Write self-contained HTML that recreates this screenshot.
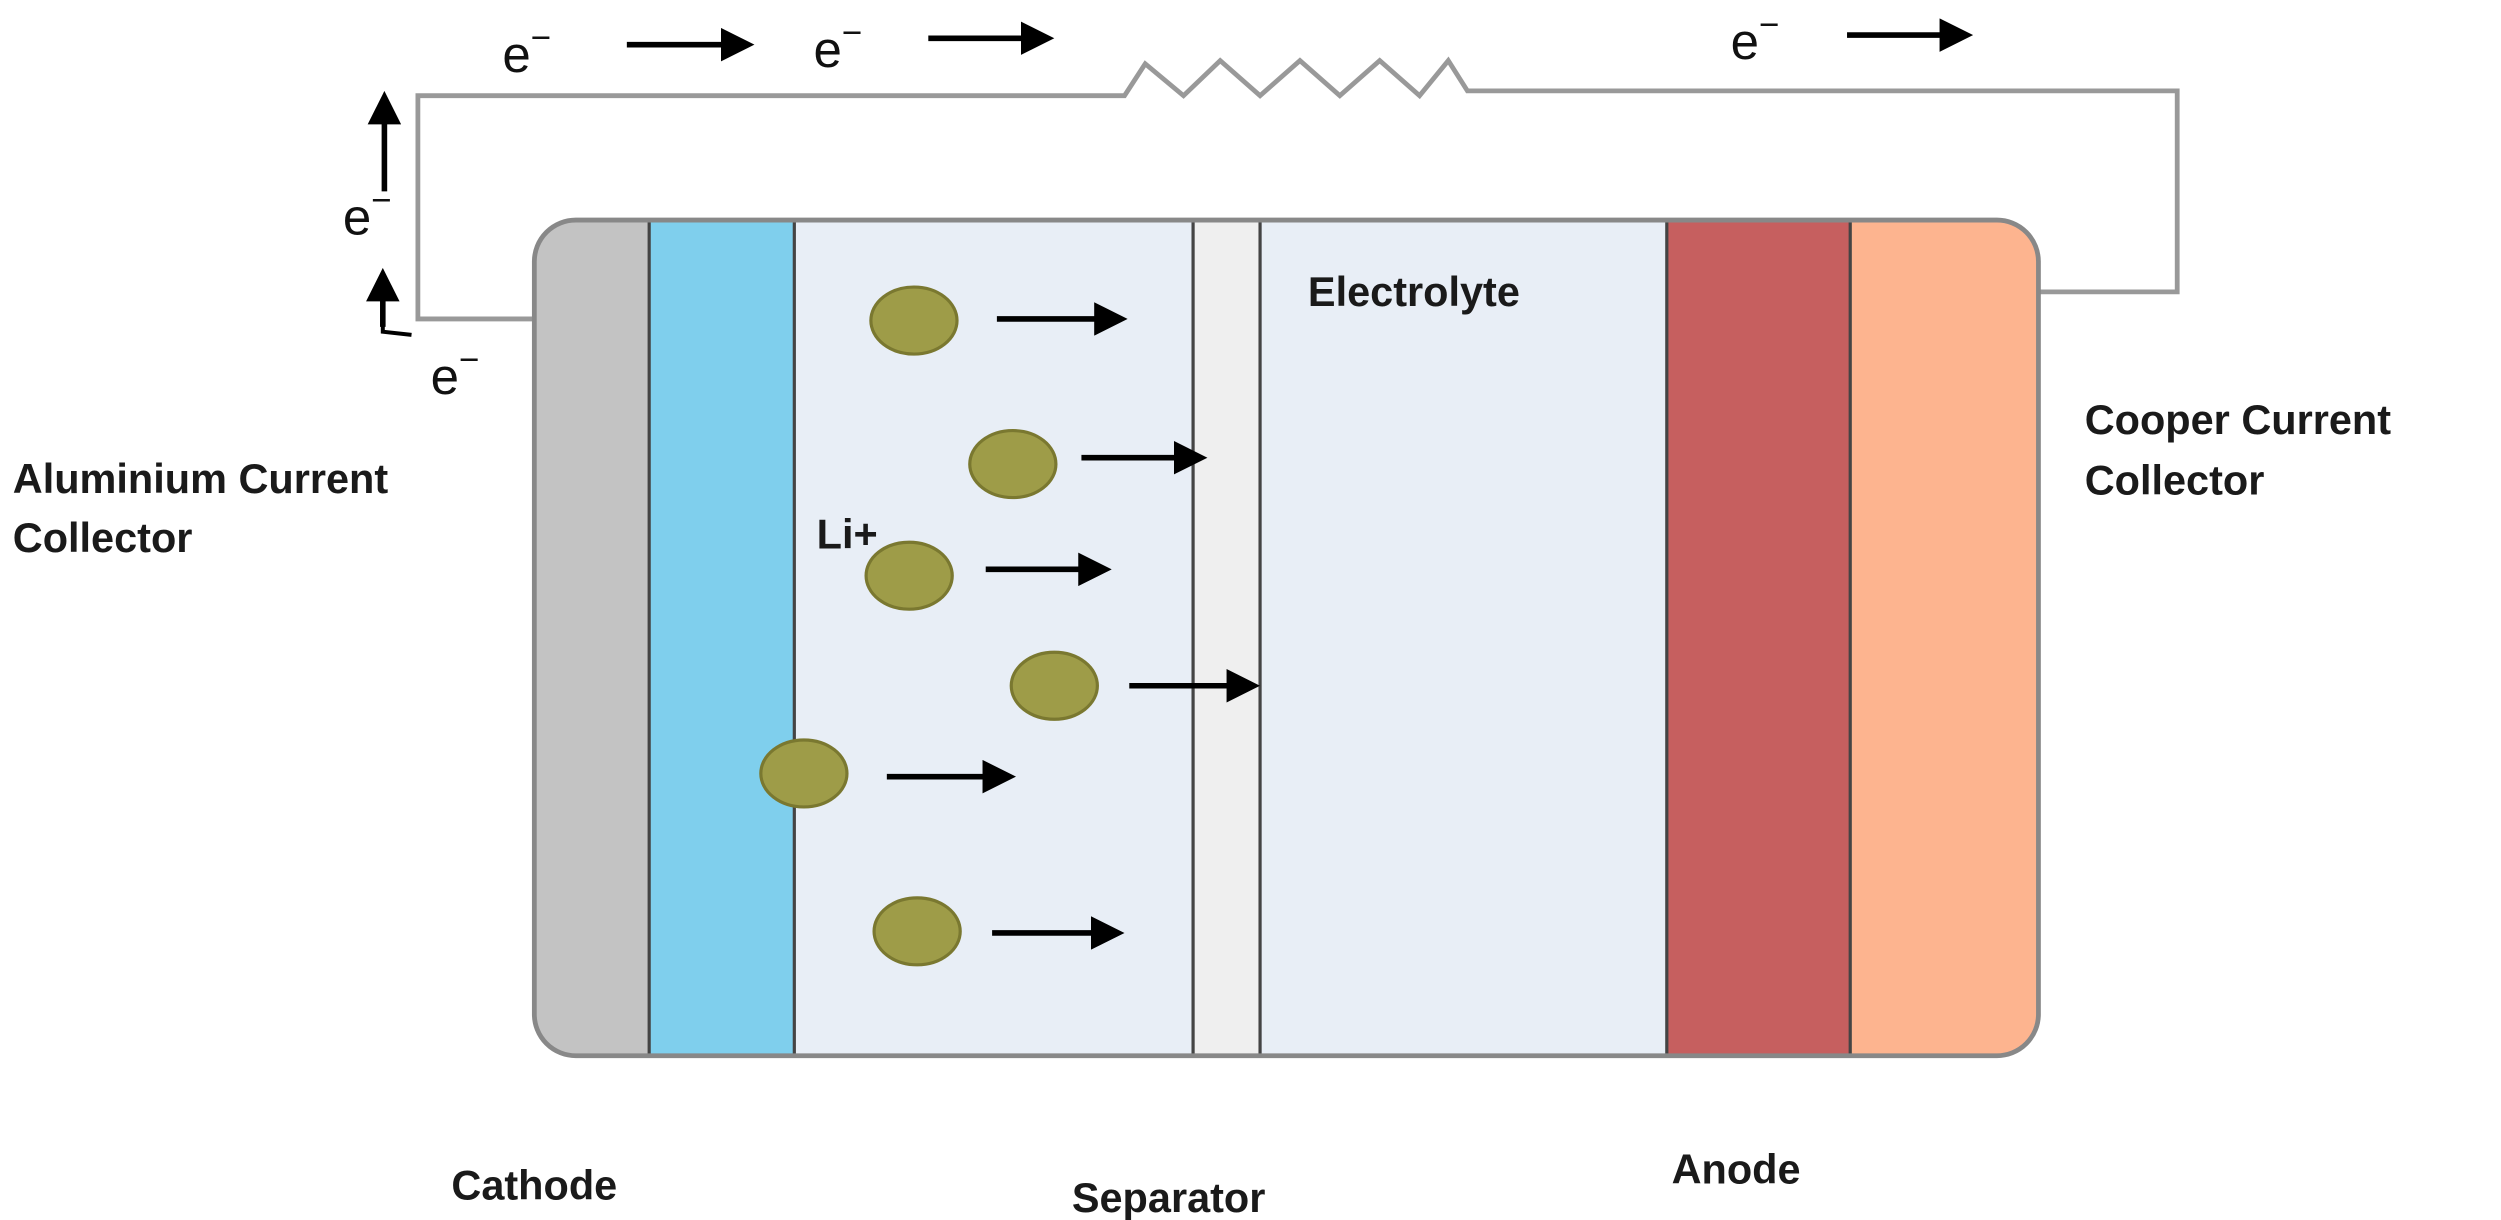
<!DOCTYPE html>
<html><head><meta charset="utf-8"><style>
html,body{margin:0;padding:0;background:#fff;}
svg{display:block;}
.lb{font-family:"Liberation Sans",sans-serif;font-weight:bold;font-size:26px;fill:#1a1a1a;}
.e{font-family:"Liberation Sans",sans-serif;font-size:32px;fill:#111;}
</style></head><body>
<svg width="2501" height="1220" viewBox="0 0 1568 765" preserveAspectRatio="none" xmlns="http://www.w3.org/2000/svg">
<defs>
<marker id="ah" markerWidth="6" markerHeight="6" refX="4" refY="3" orient="auto" markerUnits="strokeWidth">
<path d="M0,0 L6,3 L0,6 z" fill="#000"/></marker>
<clipPath id="bx"><rect x="335" y="138" width="943" height="524" rx="26"/></clipPath>
</defs>
<polyline points="335,200 262,200 262,60 705,60 718,40 742,60 765,38 790,60 815,38 840,60 865,38 890,60 908,38 920,57 1365,57 1365,183 1278,183" fill="none" stroke="#999" stroke-width="3"/>
<g clip-path="url(#bx)">
<rect x="335" y="138" width="72" height="524" fill="#c3c3c3"/>
<rect x="407" y="138" width="91" height="524" fill="#7fcfed"/>
<rect x="498" y="138" width="250" height="524" fill="#e8eef6"/>
<rect x="748" y="138" width="42" height="524" fill="#efefef"/>
<rect x="790" y="138" width="255" height="524" fill="#e8eef6"/>
<rect x="1045" y="138" width="115" height="524" fill="#c65f5f"/>
<rect x="1160" y="138" width="118" height="524" fill="#fdb48f"/>
<g stroke="#444" stroke-width="2">
<line x1="407" y1="138" x2="407" y2="662"/><line x1="498" y1="138" x2="498" y2="662"/>
<line x1="748" y1="138" x2="748" y2="662"/><line x1="790" y1="138" x2="790" y2="662"/>
<line x1="1045" y1="138" x2="1045" y2="662"/><line x1="1160" y1="138" x2="1160" y2="662"/>
</g>
</g>
<rect x="335" y="138" width="943" height="524" rx="26" fill="none" stroke="#888" stroke-width="3"/>
<g fill="#9e9c48" stroke="#7a7830" stroke-width="2">
<ellipse cx="573" cy="201" rx="27" ry="21"/>
<ellipse cx="635" cy="291" rx="27" ry="21"/>
<ellipse cx="570" cy="361" rx="27" ry="21"/>
<ellipse cx="661" cy="430" rx="27" ry="21"/>
<ellipse cx="504" cy="485" rx="27" ry="21"/>
<ellipse cx="575" cy="584" rx="27" ry="21"/>
</g>
<g stroke="#000" stroke-width="3.5" marker-end="url(#ah)">
<line x1="625" y1="200" x2="700" y2="200"/>
<line x1="678" y1="287" x2="750" y2="287"/>
<line x1="618" y1="357" x2="690" y2="357"/>
<line x1="708" y1="430" x2="783" y2="430"/>
<line x1="556" y1="487" x2="630" y2="487"/>
<line x1="622" y1="585" x2="698" y2="585"/>
<line x1="393" y1="28" x2="466" y2="28"/>
<line x1="582" y1="24" x2="654" y2="24"/>
<line x1="1158" y1="22" x2="1230" y2="22"/>
<line x1="241" y1="120" x2="241" y2="64"/>
<line x1="240" y1="205" x2="240" y2="175"/>
</g>
<polyline points="240,200 240,208 258,210" fill="none" stroke="#000" stroke-width="2.5"/>
<text class="e" x="315" y="45">e<tspan dy="-14" font-size="22">−</tspan></text>
<text class="e" x="510" y="42">e<tspan dy="-14" font-size="22">−</tspan></text>
<text class="e" x="1085" y="37">e<tspan dy="-14" font-size="22">−</tspan></text>
<text class="e" x="215" y="147">e<tspan dy="-14" font-size="22">−</tspan></text>
<text class="e" x="270" y="247">e<tspan dy="-14" font-size="22">−</tspan></text>
<text class="lb" x="8" y="309">Aluminium Current</text>
<text class="lb" x="8" y="346">Collector</text>
<text class="lb" x="1307" y="272">Cooper Current</text>
<text class="lb" x="1307" y="310">Collector</text>
<text class="lb" x="512" y="344">Li+</text>
<text class="lb" x="820" y="192">Electrolyte</text>
<text class="lb" x="283" y="752">Cathode</text>
<text class="lb" x="672" y="760">Separator</text>
<text class="lb" x="1048" y="742">Anode</text>
</svg>
</body></html>
